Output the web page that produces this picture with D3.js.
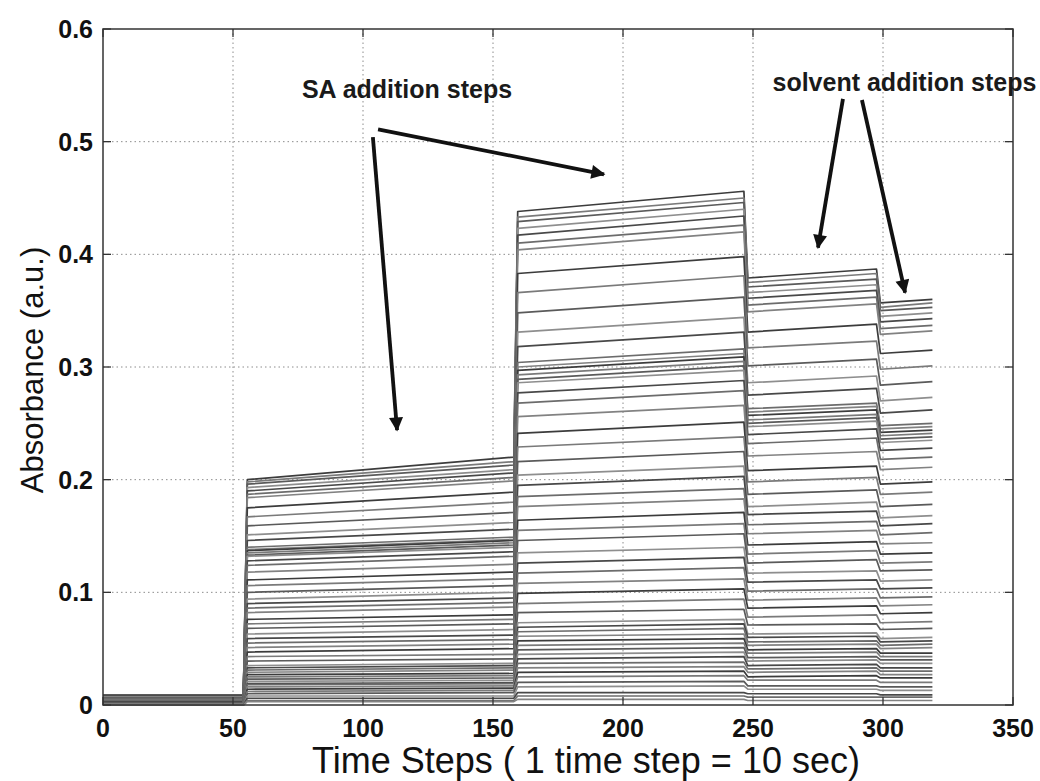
<!DOCTYPE html>
<html>
<head>
<meta charset="utf-8">
<script src="https://cdn.jsdelivr.net/npm/d3@7"></script>
<style>
  html, body { margin: 0; padding: 0; background: #fff; }
  svg { display: block; font-family: "Liberation Sans", Arial, sans-serif; }
</style>
</head>
<body>
<svg id="chart" width="1040" height="781"></svg>
<script>
// Absorbance traces per wavelength at each step edge

// time steps where each plateau starts / ends
const stepTimes = [0, 54, 55.5, 158, 159.5, 246.5, 248, 297.5, 299, 319];

const baseline = [0.009,0.009,0.009,0.008,0.008,0.008,0.008,0.008,0.007,0.007,
  0.007,0.006,0.006,0.006,0.006,0.006,0.006,0.006,0.006,0.005,
  0.005,0.005,0.005,0.004,0.004,0.004,0.004,0.004,0.003,0.003,
  0.003,0.003,0.003,0.002,0.002,0.002,0.002,0.002,0.001,0.001,
  0.001,0.001,0.001,0.001,0.001,0.001,0.001,0.001,0.001,0.001,
  0.001,0.000,0.000,0.000,0.000,0.000];

// first SA addition
const p1Start = [0.200,0.198,0.196,0.193,0.190,0.187,0.184,0.175,0.167,0.159,
  0.151,0.146,0.140,0.138,0.137,0.135,0.133,0.132,0.128,0.124,
  0.118,0.111,0.106,0.100,0.094,0.090,0.086,0.082,0.076,0.072,
  0.068,0.063,0.059,0.055,0.051,0.047,0.043,0.039,0.035,0.033,
  0.031,0.029,0.027,0.025,0.023,0.021,0.019,0.018,0.016,0.014,
  0.012,0.010,0.008,0.006,0.004,0.003];
const p1End = [0.220,0.216,0.213,0.209,0.206,0.202,0.199,0.189,0.180,0.171,
  0.162,0.156,0.149,0.147,0.146,0.144,0.142,0.140,0.136,0.132,
  0.125,0.118,0.112,0.106,0.100,0.095,0.091,0.087,0.080,0.076,
  0.072,0.067,0.062,0.058,0.054,0.050,0.045,0.041,0.037,0.035,
  0.033,0.031,0.028,0.026,0.024,0.022,0.020,0.019,0.017,0.015,
  0.013,0.011,0.008,0.006,0.004,0.003];

// second SA addition
const p2Start = [0.438,0.433,0.429,0.423,0.417,0.410,0.404,0.383,0.366,0.348,
  0.331,0.318,0.304,0.300,0.297,0.293,0.289,0.286,0.277,0.268,
  0.256,0.241,0.229,0.216,0.204,0.195,0.185,0.176,0.164,0.155,
  0.146,0.135,0.126,0.117,0.108,0.099,0.090,0.082,0.073,0.069,
  0.065,0.061,0.057,0.053,0.049,0.045,0.041,0.037,0.033,0.029,
  0.025,0.020,0.016,0.011,0.008,0.005];
const p2End = [0.456,0.450,0.446,0.440,0.434,0.426,0.420,0.398,0.381,0.362,
  0.344,0.331,0.316,0.312,0.309,0.305,0.301,0.297,0.288,0.279,
  0.266,0.251,0.238,0.225,0.212,0.203,0.192,0.183,0.171,0.161,
  0.152,0.140,0.131,0.122,0.112,0.103,0.094,0.085,0.076,0.072,
  0.068,0.063,0.059,0.055,0.051,0.047,0.043,0.038,0.034,0.030,
  0.026,0.021,0.017,0.011,0.008,0.005];

// first solvent addition
const p3Start = [0.379,0.375,0.371,0.366,0.361,0.355,0.349,0.331,0.317,0.301,
  0.286,0.275,0.263,0.260,0.257,0.253,0.250,0.247,0.240,0.232,
  0.221,0.208,0.198,0.187,0.176,0.169,0.160,0.152,0.142,0.134,
  0.126,0.117,0.109,0.101,0.093,0.086,0.078,0.071,0.063,0.060,
  0.056,0.053,0.049,0.046,0.042,0.039,0.035,0.032,0.029,0.025,
  0.022,0.017,0.014,0.010,0.007,0.004];
const p3End = [0.387,0.383,0.378,0.373,0.368,0.362,0.356,0.338,0.323,0.307,
  0.292,0.281,0.268,0.265,0.262,0.258,0.255,0.252,0.245,0.237,
  0.225,0.212,0.202,0.191,0.180,0.172,0.163,0.155,0.145,0.137,
  0.129,0.119,0.111,0.103,0.095,0.088,0.080,0.072,0.064,0.061,
  0.057,0.054,0.050,0.047,0.043,0.040,0.036,0.033,0.030,0.026,
  0.022,0.017,0.014,0.010,0.007,0.004];

// second solvent addition
const p4Start = [0.357,0.353,0.350,0.345,0.340,0.334,0.329,0.312,0.298,0.284,
  0.270,0.259,0.248,0.245,0.242,0.239,0.236,0.233,0.226,0.218,
  0.209,0.196,0.187,0.176,0.166,0.159,0.151,0.143,0.134,0.126,
  0.119,0.110,0.103,0.095,0.088,0.081,0.073,0.067,0.059,0.056,
  0.053,0.050,0.046,0.043,0.040,0.037,0.033,0.030,0.027,0.024,
  0.020,0.016,0.013,0.009,0.007,0.004];
const p4End = [0.360,0.357,0.353,0.348,0.343,0.337,0.332,0.315,0.301,0.287,
  0.273,0.262,0.250,0.247,0.244,0.241,0.238,0.235,0.228,0.220,
  0.211,0.198,0.189,0.178,0.168,0.161,0.153,0.144,0.135,0.127,
  0.120,0.111,0.104,0.096,0.089,0.082,0.074,0.068,0.060,0.057,
  0.054,0.051,0.046,0.043,0.040,0.037,0.033,0.030,0.027,0.024,
  0.020,0.016,0.013,0.009,0.007,0.004];

const xTicks = [0, 50, 100, 150, 200, 250, 300, 350];
const yTicks = [0, 0.1, 0.2, 0.3, 0.4, 0.5, 0.6];

// annotation text and arrows, in data units [t, absorbance]
const notes = [
  { text: "SA addition steps", at: [76.5, 0.539] },
  { text: "solvent addition steps", at: [257.5, 0.545] }
];
const arrows = [
  { from: [103.8, 0.504], to: [113.1, 0.244] },
  { from: [105.8, 0.511], to: [192.7, 0.471] },
  { from: [284.6, 0.538], to: [275.0, 0.406] },
  { from: [291.9, 0.537], to: [308.5, 0.366] }
];

const svg = d3.select("#chart");
const plotLeft = 103, plotRight = 1013, plotTop = 29, plotBottom = 705;

const x = d3.scaleLinear().domain([0, 350]).range([plotLeft, plotRight]);
const y = d3.scaleLinear().domain([0, 0.6]).range([plotBottom, plotTop]);

// grid (matlab style dotted)
const grid = svg.append("g").attr("class", "grid");
xTicks.slice(1, -1).forEach(t => {
    grid.append("line")
        .attr("x1", x(t)).attr("x2", x(t))
        .attr("y1", plotTop).attr("y2", plotBottom)
        .attr("stroke", "#8c8c8c")
        .attr("stroke-width", 1)
        .attr("stroke-dasharray", "1.5,3");
});
yTicks.slice(1, -1).forEach(v => {
    grid.append("line")
        .attr("x1", plotLeft).attr("x2", plotRight)
        .attr("y1", y(v)).attr("y2", y(v))
        .attr("stroke", "#8c8c8c")
        .attr("stroke-width", 1)
        .attr("stroke-dasharray", "1.5,3");
});

// build the traces
const traces = p2Start.map((_, i) => {
    const vals = [baseline[i], baseline[i], p1Start[i], p1End[i], p2Start[i], p2End[i],
                  p3Start[i], p3End[i], p4Start[i], p4End[i]];
    return stepTimes.map((t, k) => [t, vals[k]]);
});

const shades = ["#3c3c3c", "#7a7a7a", "#5a5a5a", "#8e8e8e", "#484848", "#6c6c6c", "#828282"];
const line = d3.line().x(d => x(d[0])).y(d => y(d[1]));

svg.append("g")
    .attr("class", "traces")
    .selectAll("path")
    .data(traces)
    .join("path")
    .attr("d", line)
    .attr("fill", "none")
    .attr("stroke", (d, i) => shades[i % shades.length])
    .attr("stroke-width", 1.7)
    .attr("stroke-linejoin", "round");

// axes box
svg.append("rect")
    .attr("x", plotLeft).attr("y", plotTop)
    .attr("width", plotRight - plotLeft).attr("height", plotBottom - plotTop)
    .attr("fill", "none")
    .attr("stroke", "#333")
    .attr("stroke-width", 1.5);

// inward ticks on all four sides
const tickLen = 8;
const ticks = svg.append("g").attr("stroke", "#333").attr("stroke-width", 1.3);
xTicks.forEach(t => {
    ticks.append("line").attr("x1", x(t)).attr("x2", x(t)).attr("y1", plotBottom).attr("y2", plotBottom - tickLen);
    ticks.append("line").attr("x1", x(t)).attr("x2", x(t)).attr("y1", plotTop).attr("y2", plotTop + tickLen);
});
yTicks.forEach(v => {
    ticks.append("line").attr("x1", plotLeft).attr("x2", plotLeft + tickLen).attr("y1", y(v)).attr("y2", y(v));
    ticks.append("line").attr("x1", plotRight).attr("x2", plotRight - tickLen).attr("y1", y(v)).attr("y2", y(v));
});

// tick labels
svg.append("g")
    .selectAll("text")
    .data(xTicks)
    .join("text")
    .attr("x", d => x(d))
    .attr("y", plotBottom + 32)
    .attr("text-anchor", "middle")
    .attr("font-size", 25)
    .attr("font-weight", "bold")
    .attr("fill", "#111")
    .text(d => d);

svg.append("g")
    .selectAll("text")
    .data(yTicks)
    .join("text")
    .attr("x", plotLeft - 10)
    .attr("y", d => y(d) + 9)
    .attr("text-anchor", "end")
    .attr("font-size", 25)
    .attr("font-weight", "bold")
    .attr("fill", "#111")
    .text(d => d === 0 ? "0" : d3.format(".1f")(d));

// axis titles
svg.append("text")
    .attr("x", 586)
    .attr("y", 773)
    .attr("text-anchor", "middle")
    .attr("font-size", 36)
    .attr("fill", "#111")
    .text("Time Steps ( 1 time step = 10 sec)");

svg.append("text")
    .attr("transform", "translate(43,370) rotate(-90)")
    .attr("text-anchor", "middle")
    .attr("font-size", 31)
    .attr("fill", "#111")
    .text("Absorbance (a.u.)");

// annotations
svg.append("defs").append("marker")
    .attr("id", "head")
    .attr("viewBox", "0 0 10 10")
    .attr("refX", 9).attr("refY", 5)
    .attr("markerWidth", 17).attr("markerHeight", 14)
    .attr("markerUnits", "userSpaceOnUse")
    .attr("orient", "auto")
    .append("path")
    .attr("d", "M0,0 L10,5 L0,10 Z")
    .attr("fill", "#111");

arrows.forEach(a => {
    svg.append("line")
        .attr("x1", x(a.from[0])).attr("y1", y(a.from[1]))
        .attr("x2", x(a.to[0])).attr("y2", y(a.to[1]))
        .attr("stroke", "#111")
        .attr("stroke-width", 3.8)
        .attr("marker-end", "url(#head)");
});

notes.forEach(n => {
    svg.append("text")
        .attr("x", x(n.at[0]))
        .attr("y", y(n.at[1]))
        .attr("font-size", 25)
        .attr("font-weight", "bold")
        .attr("fill", "#1a1a1a")
        .text(n.text);
});
</script>
</body>
</html>
